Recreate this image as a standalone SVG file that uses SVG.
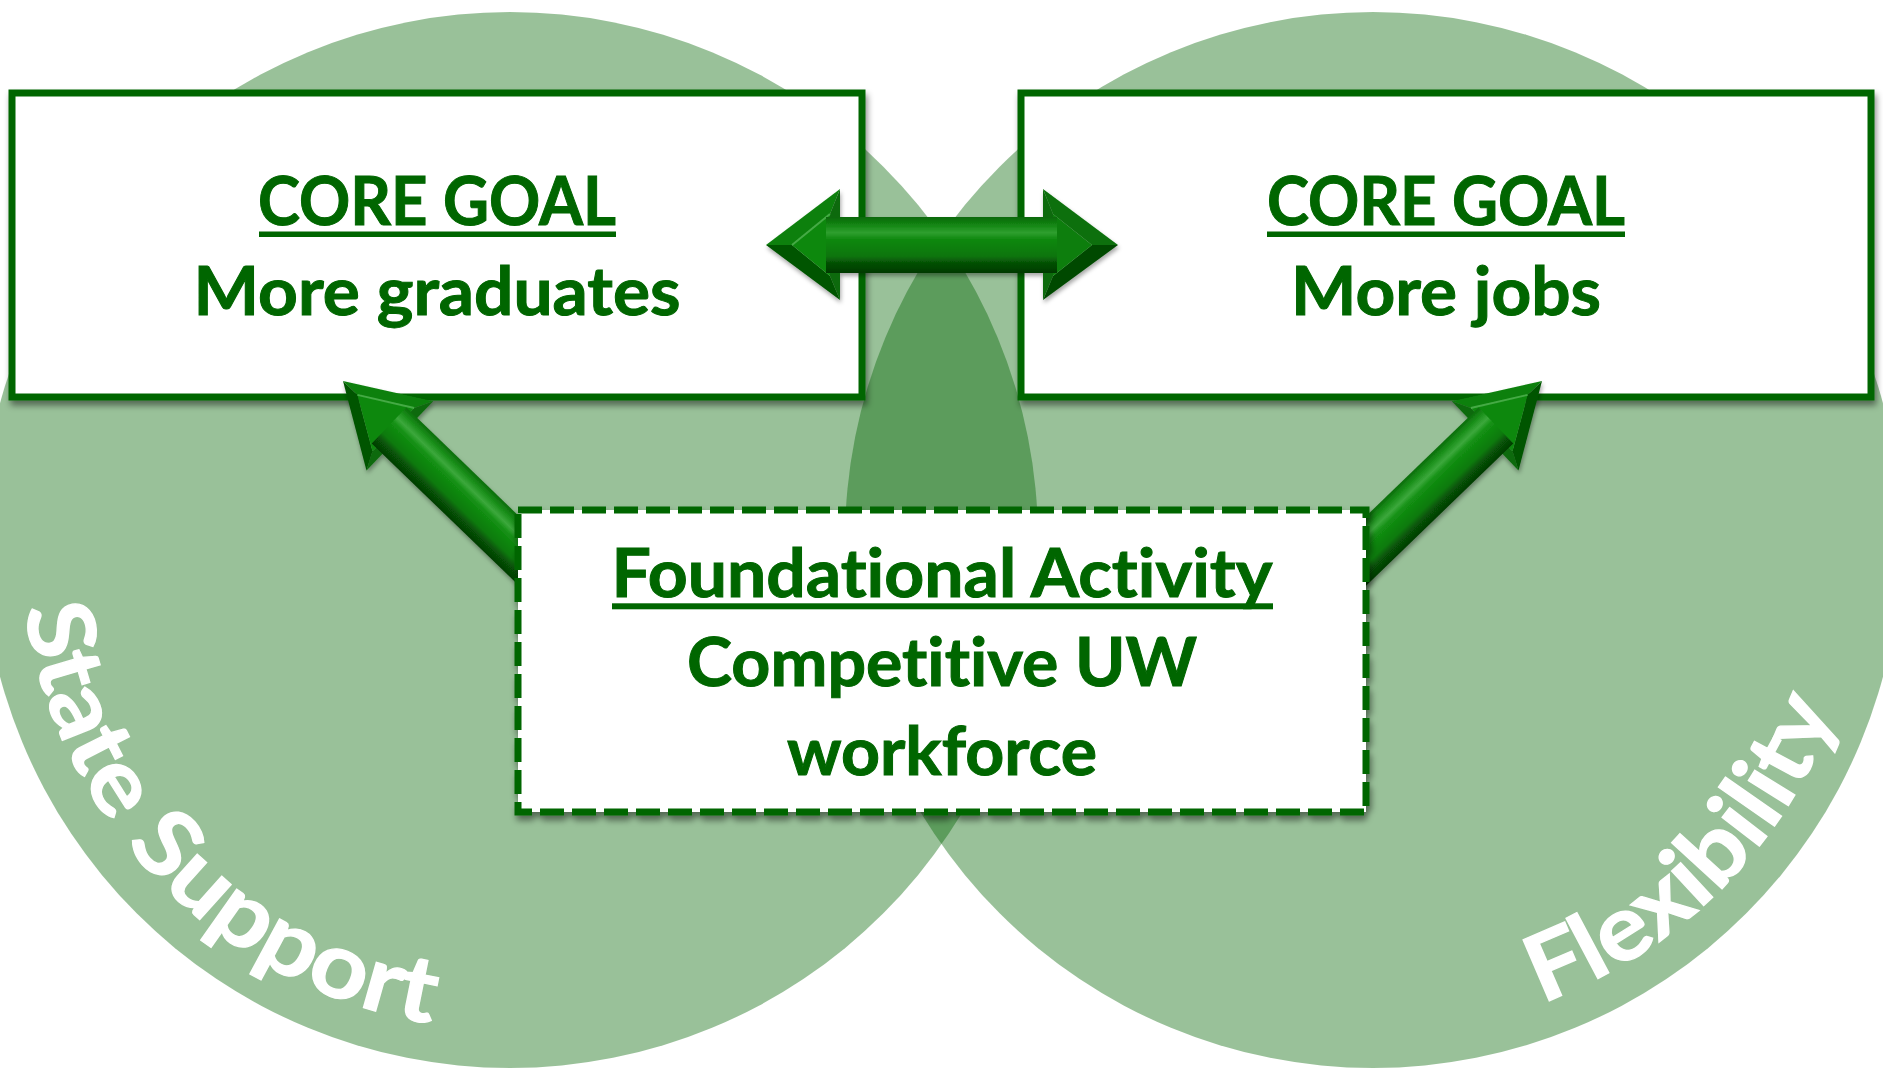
<svg xmlns="http://www.w3.org/2000/svg" xmlns:xlink="http://www.w3.org/1999/xlink" width="1883" height="1074" viewBox="0 0 1883 1074">
<style>
.circle{fill:#006400;fill-opacity:0.4}
.box{fill:#ffffff;stroke:#006600;stroke-width:7}
.dash{fill:#ffffff;stroke:#006600;stroke-width:7;stroke-dasharray:24 8}
.t{font-family:Lato,"Open Sans","Liberation Sans",sans-serif;font-weight:bold;font-size:67px;fill:#006600;stroke:#006600;stroke-width:1;text-anchor:middle;font-variant-ligatures:none;font-feature-settings:"liga" 0,"clig" 0}
.ul{fill:#006600}
.arc{font-family:Lato,"Open Sans","Liberation Sans",sans-serif;font-weight:bold;font-size:92px;fill:#ffffff;stroke:#ffffff;stroke-width:1.2;font-variant-ligatures:none;font-feature-settings:"liga" 0,"clig" 0}
</style>
<defs>
<filter id="sh" x="-10%" y="-10%" width="120%" height="130%">
<feDropShadow dx="2" dy="5" stdDeviation="3" flood-color="#000000" flood-opacity="0.45"/>
</filter>
<filter id="ash" x="-20%" y="-20%" width="140%" height="140%">
<feDropShadow dx="1" dy="3" stdDeviation="2" flood-color="#000000" flood-opacity="0.35"/>
</filter>
<linearGradient id="hShaft" gradientUnits="userSpaceOnUse" x1="0" y1="217" x2="0" y2="273">
<stop offset="0" stop-color="#0a680a"/><stop offset="0.14" stop-color="#138513"/><stop offset="0.28" stop-color="#2f9f2f"/><stop offset="0.4" stop-color="#0f880f"/><stop offset="0.7" stop-color="#0a750a"/><stop offset="0.82" stop-color="#065006"/><stop offset="1" stop-color="#043a04"/>
</linearGradient>
<linearGradient id="dShaft" gradientUnits="userSpaceOnUse" x1="0" y1="-25" x2="0" y2="25">
<stop offset="0" stop-color="#0b6d0b"/><stop offset="0.14" stop-color="#1a8f1a"/><stop offset="0.28" stop-color="#3ca83c"/><stop offset="0.4" stop-color="#139013"/><stop offset="0.7" stop-color="#0b7a0b"/><stop offset="0.82" stop-color="#075407"/><stop offset="1" stop-color="#053d05"/>
</linearGradient>
<g id="diagArrow">
<polygon points="0,0 79,-48 70,-30 20,0" fill="#0d800d"/>
<polygon points="79,-48 79,48 70,30 70,-30" fill="#0a6a0a"/>
<polygon points="79,48 0,0 20,0 70,30" fill="#065406"/>
<polygon points="20,0 70,-30 70,30" fill="#0f880f"/>
<line x1="20" y1="0" x2="70" y2="-30" stroke="#45aa45" stroke-width="2"/>
<rect x="64" y="-25" width="236" height="50" fill="url(#dShaft)"/>
</g>
<path id="pLeft" d="M 24.8 608.2 A 490 490 0 0 0 441.8 1025.2" fill="none"/>
<path id="pRight" d="M 1541.6 1003.3 A 493 493 0 0 0 1839.1 700.5" fill="none"/>
</defs>

<g id="circle-state-support">
<circle class="circle" cx="510" cy="540" r="528"/>
<text class="arc"><textPath xlink:href="#pLeft" href="#pLeft" textLength="622" lengthAdjust="spacingAndGlyphs">State Support</textPath></text>
</g>
<g id="circle-flexibility">
<circle class="circle" cx="1373" cy="540" r="528"/>
<text class="arc"><textPath xlink:href="#pRight" href="#pRight" textLength="430" lengthAdjust="spacingAndGlyphs">Flexibility</textPath></text>
</g>

<g id="node-more-graduates">
<rect class="box" x="12" y="93" width="850" height="304" filter="url(#sh)"/>
<text class="t" x="437" y="225" textLength="358" lengthAdjust="spacingAndGlyphs">CORE GOAL</text>
<rect class="ul" x="259" y="231.5" width="357" height="5.5"/>
<text class="t" x="437" y="315" textLength="487" lengthAdjust="spacingAndGlyphs">More graduates</text>
</g>

<g id="node-more-jobs">
<rect class="box" x="1021" y="93" width="850" height="304" filter="url(#sh)"/>
<text class="t" x="1446" y="225" textLength="358" lengthAdjust="spacingAndGlyphs">CORE GOAL</text>
<rect class="ul" x="1267" y="231.5" width="358" height="5.5"/>
<text class="t" x="1446" y="315" textLength="310" lengthAdjust="spacingAndGlyphs">More jobs</text>
</g>

<g id="connectors">
<g id="arrow-goals" filter="url(#ash)">
<polygon points="766,245 840,189 830,214 792,245" fill="#0d800d"/>
<polygon points="840,189 840,300 830,276 830,214" fill="#0a6a0a"/>
<polygon points="840,300 766,245 792,245 830,276" fill="#065406"/>
<polygon points="792,245 830,214 830,276" fill="#0f880f"/>
<line x1="792" y1="245" x2="830" y2="214" stroke="#45aa45" stroke-width="2"/>
<polygon points="1118,245 1043,189 1053,214 1092,245" fill="#0a700a"/>
<polygon points="1043,189 1043,300 1053,276 1053,214" fill="#0a6a0a"/>
<polygon points="1043,300 1118,245 1092,245 1053,276" fill="#054a05"/>
<polygon points="1092,245 1053,214 1053,276" fill="#0c7e0c"/>
<rect x="826" y="217" width="231" height="56" fill="url(#hShaft)"/>
</g>
<g id="arrow-to-graduates" filter="url(#ash)">
<use href="#diagArrow" xlink:href="#diagArrow" transform="translate(343,381) rotate(44)"/>
</g>
<g id="arrow-to-jobs" filter="url(#ash)">
<use href="#diagArrow" xlink:href="#diagArrow" transform="translate(1885,0) scale(-1,1) translate(343,381) rotate(44)"/>
</g>
</g>

<g id="node-foundational">
<rect class="dash" x="518" y="510" width="848" height="302" filter="url(#sh)"/>
<text class="t" x="942" y="597" textLength="661" lengthAdjust="spacingAndGlyphs">Foundational Activity</text>
<rect class="ul" x="612" y="603.3" width="661" height="6"/>
<text class="t" x="942" y="686" textLength="510" lengthAdjust="spacingAndGlyphs">Competitive UW</text>
<text class="t" x="942" y="775" textLength="310" lengthAdjust="spacingAndGlyphs">workforce</text>
</g>
</svg>
